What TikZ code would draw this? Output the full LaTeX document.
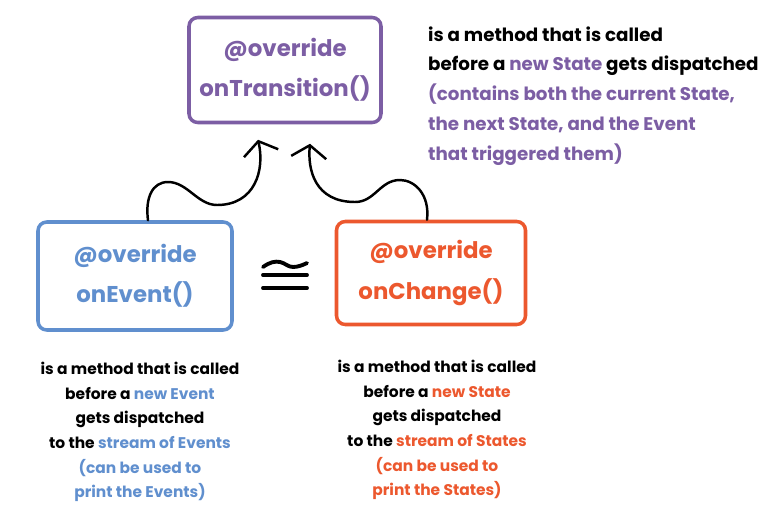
\documentclass[tikz,border=0pt]{standalone}
\usepackage{fontspec}
\setmainfont{Poppins}
\usepackage{tikz}
\usetikzlibrary{positioning, shapes, arrows.meta, calc}
\definecolor{BlocPurple}{RGB}{124, 94, 164}
\definecolor{BlocBlue}{RGB}{96, 143, 206}
\definecolor{BlocOrange}{RGB}{236, 88, 46}

\tikzset{
  hookbox/.style={draw, line width=2pt, rounded corners=5pt, align=center,
    font=\bfseries\fontsize{13}{23}\selectfont, inner sep=0pt},
  desc/.style={font=\bfseries\fontsize{8.8}{14}\selectfont, text=black, align=center},
  flow/.style={line width=1.4pt, line cap=round,
    -{Straight Barb[length=7pt, width=20pt, line width=1.4pt]}},
  congline/.style={line width=2.2pt, line cap=round}
}

\begin{document}
\begin{tikzpicture}
      \useasboundingbox (0,0) rectangle (15.2,-10.18);

      % Hooks
      \node[hookbox, BlocPurple, minimum width=3.84cm, minimum height=2.1cm] (trans) at (5.7,-1.4)
        {@override\\onTransition()};
      \node[hookbox, BlocBlue, minimum width=3.88cm, minimum height=2.16cm] (event) at (2.7,-5.52)
        {@override\\onEvent()};
      \node[hookbox, BlocOrange, minimum width=3.78cm, minimum height=2.06cm] (change) at (8.62,-5.46)
        {@override\\onChange()};

      % Congruence sign
      \coordinate (cong) at (5.7,-5.5);
      \begin{scope}[shift={(cong)}]
        \draw[congline] (-0.44,0.16) .. controls (-0.3,0.26) and (-0.2,0.28) .. (-0.1,0.26)
          .. controls (0.0,0.24) and (0.06,0.16) .. (0.16,0.16)
          .. controls (0.26,0.16) and (0.36,0.2) .. (0.44,0.24);
        \draw[congline] (-0.44,0) -- (0.44,0);
        \draw[congline] (-0.44,-0.26) -- (0.44,-0.26);
      \end{scope}

      % Curved arrows
      \coordinate (tipL) at ($(trans.south)+(-0.54,-0.31)$);
      \coordinate (tipR) at ($(trans.south)+(0.5,-0.39)$);
      \draw[flow] ($(event.north)+(0.26,0)$) .. controls (2.9,-3.95) and (3.05,-3.64) .. (3.36,-3.64)
        .. controls (3.75,-3.64) and (3.95,-4.1) .. (4.34,-4.1)
        .. controls (5.1,-4.1) and (5.3,-3.4) .. (tipL);
      \draw[flow] ($(change.north)+(-0.08,0)$) .. controls (8.6,-3.9) and (8.3,-3.6) .. (8.0,-3.6)
        .. controls (7.6,-3.6) and (7.5,-4.04) .. (7.1,-4.04)
        .. controls (6.3,-4.04) and (6.15,-3.4) .. (tipR);

      % Descriptions
      \node[desc, anchor=west, align=left, font=\bfseries\fontsize{10.4}{17}\selectfont] (transtxt) at (8.44,-1.92)
        {is a method that is called\\
         before a \textcolor{BlocPurple}{new State} gets dispatched\\
         \textcolor{BlocPurple}{(contains both the current State,}\\
         \textcolor{BlocPurple}{the next State, and the Event}\\
         \textcolor{BlocPurple}{that triggered them)}};
      \node[desc] (eventtxt) at (2.8,-8.64)
        {is a method that is called\\
         before a \textcolor{BlocBlue}{new Event}\\
         gets dispatched\\
         to the \textcolor{BlocBlue}{stream of Events}\\
         \textcolor{BlocBlue}{(can be used to}\\
         \textcolor{BlocBlue}{print the Events)}};
      \node[desc] (changetxt) at (8.74,-8.6)
        {is a method that is called\\
         before a \textcolor{BlocOrange}{new State}\\
         gets dispatched\\
         to the \textcolor{BlocOrange}{stream of States}\\
         \textcolor{BlocOrange}{(can be used to}\\
         \textcolor{BlocOrange}{print the States)}};
\end{tikzpicture}
\end{document}
